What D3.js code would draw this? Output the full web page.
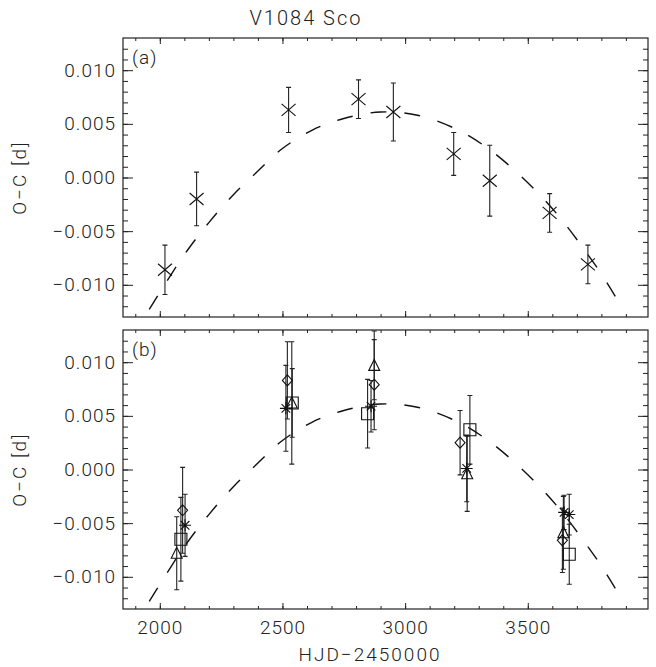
<!DOCTYPE html>
<html>
<head>
<meta charset="utf-8">
<title>V1084 Sco</title>
<script src="https://d3js.org/d3.v7.min.js"></script>
<style>
    body { margin: 0; background: #fff; }
    text { font-family: Roboto, "Liberation Sans", sans-serif; font-weight: 300; fill: #222; letter-spacing: 1px; }
</style>
</head>
<body>
<div id="chart"></div>
<script>
// tick labels
var xTicks = [2000, 2500, 3000, 3500];
var yTicks = [-0.010, -0.005, 0.000, 0.005, 0.010];

// dashed fit curve
var fitHJD = [1957, 2050, 2112, 2200, 2300, 2400, 2500, 2620, 2750, 2900, 3050, 3200, 3320, 3430, 3540, 3630, 3720, 3800, 3889];
var fitOC  = [-0.0123, -0.0089, -0.0068, -0.0042, -0.0016, 0.0006, 0.0027, 0.0044, 0.0055, 0.0061, 0.0058, 0.0046, 0.0030, 0.0010, -0.0014, -0.0037, -0.0064, -0.0090, -0.0123];

// panel (a)
var aHJD = [2021, 2150, 2525, 2810, 2952, 3198, 3345, 3589, 3745];
var aOC  = [-0.0086, -0.0020, 0.0063, 0.0073, 0.0061, 0.0022, -0.0003, -0.0033, -0.0081];
var aErr = [0.0023, 0.0025, 0.0021, 0.0018, 0.0027, 0.0020, 0.0033, 0.0018, 0.0018];

// panel (b)
var astHJD = [2103, 2514, 2861, 3251, 3669, 3648];
var astOC  = [-0.0052, 0.0057, 0.0059, 0.0001, -0.0042, -0.0040];
var astErr = [0.0029, 0.0040, 0.0024, 0.0031, 0.0019, 0.0016];

var diaHJD = [2093, 2520, 2874, 3224, 3641];
var diaOC  = [-0.0038, 0.0083, 0.0079, 0.0025, -0.0066];
var diaErr = [0.0040, 0.0036, 0.0042, 0.0030, 0.0030];

var sqHJD = [2086, 2540, 2847, 3264, 3669];
var sqOC  = [-0.0065, 0.0062, 0.0052, 0.0037, -0.0079];
var sqErr = [0.0039, 0.0032, 0.0032, 0.0032, 0.0028];

var triHJD = [2069, 2538, 2874, 3253, 3645];
var triOC  = [-0.0078, 0.0062, 0.0097, -0.0004, -0.0059];
var triErr = [0.0034, 0.0057, 0.0032, 0.0035, 0.0034];

var svg = d3.select("#chart").append("svg")
    .attr("width", 656)
    .attr("height", 667);

var x = d3.scaleLinear().domain([1850, 3990]).range([123, 648]);
var xMinor = d3.range(1900, 3990, 100);
var yMinor = d3.range(-12, 13).map(function(d) { return d / 1000; });

var fitLine = d3.line()
    .x(function(d) { return x(d[0]); })
    .curve(d3.curveCatmullRom);

function zip(a, b, c) {
    return a.map(function(d, i) { return [d, b[i], c ? c[i] : 0]; });
}

function panel(top, bottom, name, id) {
    var y = d3.scaleLinear().domain([-0.013, 0.013]).range([bottom, top]);
    var g = svg.append("g");

    g.append("clipPath").attr("id", id)
        .append("rect").attr("x", 123).attr("y", top).attr("width", 525).attr("height", bottom - top);

    // x axes, ticks inward
    g.append("g").attr("transform", "translate(0," + bottom + ")")
        .call(d3.axisBottom(x).tickValues(xMinor).tickFormat("").tickSize(-3));
    g.append("g").attr("transform", "translate(0," + bottom + ")")
        .call(d3.axisBottom(x).tickValues(xTicks).tickFormat(name == "b" ? d3.format("d") : "").tickSize(-6).tickPadding(12));
    g.append("g").attr("transform", "translate(0," + top + ")")
        .call(d3.axisTop(x).tickValues(xMinor).tickFormat("").tickSize(-3));
    g.append("g").attr("transform", "translate(0," + top + ")")
        .call(d3.axisTop(x).tickValues(xTicks).tickFormat("").tickSize(-6));

    // y axes
    g.append("g").attr("transform", "translate(123,0)")
        .call(d3.axisLeft(y).tickValues(yMinor).tickFormat("").tickSize(-5));
    g.append("g").attr("transform", "translate(123,0)")
        .call(d3.axisLeft(y).tickValues(yTicks).tickFormat(d3.format(".3f")).tickSize(-10).tickPadding(7));
    g.append("g").attr("transform", "translate(648,0)")
        .call(d3.axisRight(y).tickValues(yMinor).tickFormat("").tickSize(-5));
    g.append("g").attr("transform", "translate(648,0)")
        .call(d3.axisRight(y).tickValues(yTicks).tickFormat("").tickSize(-10));

    g.selectAll(".domain").remove();
    g.selectAll(".tick line").attr("stroke", "#222");
    g.selectAll(".tick text").attr("font-size", 19).attr("fill", "#222")
        .attr("font-family", "Roboto, 'Liberation Sans', sans-serif").attr("font-weight", 300)
        .text(function() { return this.textContent.replace("-", "\u2212"); });

    g.append("rect")
        .attr("x", 123).attr("y", top).attr("width", 525).attr("height", bottom - top)
        .attr("fill", "none").attr("stroke", "#222").attr("stroke-width", 1.2);

    g.append("text").attr("x", 132).attr("y", top + 26)
        .attr("font-size", 19).text("(" + name + ")");

    g.append("text")
        .attr("transform", "translate(26," + (top + bottom) / 2 + ") rotate(-90)")
        .attr("text-anchor", "middle").attr("font-size", 19)
        .style("letter-spacing", "2px")
        .text("O\u2212C [d]");

    var plot = g.append("g").attr("clip-path", "url(#" + id + ")");

    plot.append("path")
        .datum(zip(fitHJD, fitOC))
        .attr("d", fitLine.y(function(d) { return y(d[1]); }))
        .attr("fill", "none")
        .attr("stroke", "#111")
        .attr("stroke-width", 1.4)
        .attr("stroke-dasharray", "16,18");

    return { y: y, plot: plot };
}

function errorBars(p, data) {
    var y = p.y;
    var eb = p.plot.append("g").attr("stroke", "#222").attr("stroke-width", 1.1).attr("fill", "none");
    eb.selectAll(".bar").data(data).enter().append("path")
        .attr("d", function(d) {
            var cx = x(d[0]), y1 = y(d[1] + d[2]), y2 = y(d[1] - d[2]);
            return "M" + cx + "," + y1 + "V" + y2 +
                   "M" + (cx - 2.5) + "," + y1 + "H" + (cx + 2.5) +
                   "M" + (cx - 2.5) + "," + y2 + "H" + (cx + 2.5);
        });
}

function symbols(p, data, shape) {
    var y = p.y;
    p.plot.append("g").attr("stroke", "#111").attr("stroke-width", 1.1).attr("fill", "none")
        .selectAll(".sym").data(data).enter().append("path")
        .attr("transform", function(d) { return "translate(" + x(d[0]) + "," + y(d[1]) + ")"; })
        .attr("d", shape);
}

var crossPath = "M-7,-6L7,6M-7,6L7,-6";
var astPath = "M0,-6V6M-6,0H6M-4.3,-4.3L4.3,4.3M-4.3,4.3L4.3,-4.3";
var diaPath = "M0,-5.5L5,0L0,5.5L-5,0Z";
var sqPath = "M-6,-6H6V6H-6Z";
var triPath = "M-5.5,5L0,-6L5.5,5Z";

// panel (a)
var pa = panel(38, 317, "a", "clipA");
var aData = zip(aHJD, aOC, aErr);
errorBars(pa, aData);
symbols(pa, aData, crossPath);

// panel (b)
var pb = panel(330, 609, "b", "clipB");
var groups = [
    [zip(triHJD, triOC, triErr), triPath],
    [zip(sqHJD, sqOC, sqErr), sqPath],
    [zip(diaHJD, diaOC, diaErr), diaPath],
    [zip(astHJD, astOC, astErr), astPath]
];
groups.forEach(function(s) { errorBars(pb, s[0]); });
groups.forEach(function(s) { symbols(pb, s[0], s[1]); });

// titles
svg.append("text").attr("x", 306).attr("y", 25).attr("text-anchor", "middle")
    .attr("font-size", 20).style("letter-spacing", "2px").text("V1084 Sco");
svg.append("text").attr("x", 370).attr("y", 661).attr("text-anchor", "middle")
    .attr("font-size", 19).style("letter-spacing", "2px").text("HJD\u22122450000");
</script>
</body>
</html>
